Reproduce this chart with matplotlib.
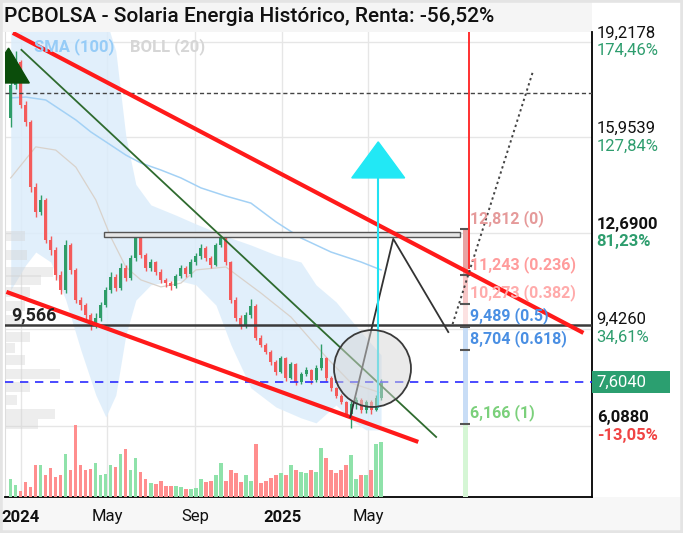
import matplotlib
matplotlib.use("Agg")
import matplotlib.pyplot as plt
import matplotlib.dates as mdates
import matplotlib.transforms as mtrans
from matplotlib.patches import Rectangle
import pandas as pd

plt.rcParams['font.family'] = ['Roboto', 'DejaVu Sans']

# --- velas semanais (Solaria, dez/2023 -> mai/2025) ---
semanas = pd.date_range('2023-12-18', periods=75, freq='7D')
aberturas = [16.62, 17.74, 18.53, 17.06, 16.48, 14.26, 13.41, 13.82, 12.45, 12.11,
             11.26, 10.74, 12.28, 11.43, 10.40, 10.23, 9.89, 9.55, 9.79, 10.23,
             10.74, 11.19, 10.81, 11.50, 11.15, 11.84, 12.52, 11.94, 11.50, 11.70,
             11.36, 11.09, 10.98, 10.88, 11.22, 11.50, 11.29, 11.70, 11.91, 12.18,
             11.84, 11.60, 12.28, 12.52, 11.70, 10.40, 9.79, 9.52, 9.89, 10.20,
             9.11, 8.87, 8.63, 8.29, 7.95, 8.42, 7.74, 8.22, 7.60, 7.88,
             8.01, 7.67, 8.08, 8.42, 7.74, 7.40, 7.13, 6.92, 6.51, 6.85,
             6.99, 6.65, 6.92, 6.65, 7.06]
fechos = [17.74, 18.53, 17.06, 16.48, 14.26, 13.41, 13.82, 12.45, 12.11, 11.26,
          10.74, 12.28, 11.43, 10.40, 10.23, 9.89, 9.55, 9.79, 10.23, 10.74,
          11.19, 10.81, 11.50, 11.15, 11.84, 12.52, 11.94, 11.50, 11.70, 11.36,
          11.09, 10.98, 10.88, 11.22, 11.50, 11.29, 11.70, 11.91, 12.18, 11.84,
          11.60, 12.28, 12.52, 11.70, 10.40, 9.79, 9.52, 9.89, 10.20, 9.11,
          8.87, 8.63, 8.29, 7.95, 8.42, 7.74, 8.22, 7.60, 7.88, 8.01,
          7.67, 8.08, 8.42, 7.74, 7.40, 7.13, 6.92, 6.51, 6.85, 6.99,
          6.65, 6.92, 6.65, 7.06, 7.604]
maximas = [17.95, 18.90, 18.60, 17.20, 16.55, 14.40, 14.00, 13.90, 12.60, 12.20,
           11.40, 12.45, 12.35, 11.50, 10.50, 10.30, 9.95, 9.95, 10.35, 10.85,
           11.35, 11.30, 11.65, 11.60, 11.95, 12.69, 12.60, 12.00, 11.80, 11.75,
           11.45, 11.15, 11.05, 11.30, 11.60, 11.55, 11.80, 12.00, 12.30, 12.25,
           11.90, 12.35, 12.69, 12.55, 11.75, 10.50, 9.90, 10.00, 10.45, 10.25,
           9.20, 8.95, 8.70, 8.35, 8.50, 8.45, 8.30, 8.25, 7.95, 8.10,
           8.05, 8.20, 8.90, 8.45, 7.80, 7.45, 7.20, 6.95, 6.95, 7.10,
           7.05, 7.00, 6.98, 7.15, 7.70]
minimas = [16.30, 17.60, 16.95, 16.35, 14.10, 13.25, 13.30, 12.35, 11.95, 11.10,
           10.60, 10.65, 11.30, 10.30, 10.05, 9.75, 9.38, 9.45, 9.70, 10.15,
           10.65, 10.70, 10.75, 11.05, 11.10, 11.75, 11.85, 11.40, 11.40, 11.25,
           11.00, 10.85, 10.75, 10.80, 11.15, 11.20, 11.20, 11.60, 11.80, 11.75,
           11.50, 11.55, 12.20, 11.60, 10.30, 9.70, 9.42, 9.45, 9.80, 9.05,
           8.80, 8.55, 8.20, 7.85, 7.90, 7.65, 7.70, 7.50, 7.55, 7.80,
           7.55, 7.60, 8.00, 7.65, 7.30, 7.05, 6.85, 6.40, 6.05, 6.70,
           6.55, 6.55, 6.50, 6.60, 7.00]
volumes = [18, 12, 6, 15, 10, 32, 32, 22, 29, 20, 22, 43, 27, 71, 32, 27, 28, 34,
           22, 23, 32, 30, 43, 48, 27, 39, 25, 18, 14, 13, 16, 11, 11, 11, 10, 8,
           8, 9, 18, 15, 16, 22, 34, 16, 27, 24, 15, 22, 16, 53, 14, 16, 19, 22,
           24, 22, 32, 27, 25, 24, 27, 25, 49, 39, 27, 24, 27, 32, 42, 18, 22, 22,
           27, 53, 55]

boll_idx = [0, 3, 5, 8, 11, 14, 17, 19, 21, 23, 25, 28, 33, 37, 41, 44, 48, 53,
            58, 61, 65, 68, 71, 74]
boll_sup = [20.5, 20.5, 20.5, 20.5, 20.5, 20.5, 20.5, 20.0, 18.9, 16.0, 14.35,
            13.65, 13.30, 13.00, 12.72, 12.52, 12.28, 11.94, 11.70, 10.92, 10.34,
            9.72, 9.11, 8.53]
boll_inf = [10.75, 11.60, 12.04, 11.70, 10.40, 8.70, 7.16, 6.41, 7.16, 9.21, 10.40,
            10.92, 11.09, 10.92, 10.23, 8.87, 7.40, 6.75, 6.38, 6.21, 6.82, 6.31,
            5.97, 5.97]
boll_mid_idx = [0, 5, 9, 13, 17, 20, 23, 26, 30, 34, 37, 43, 50, 56, 63, 68, 74]
boll_mid = [14.57, 15.63, 15.52, 14.94, 13.82, 12.55, 11.53, 11.09, 10.85, 10.98,
            11.43, 11.53, 10.64, 9.82, 8.46, 7.57, 7.23]
sma_idx = [0, 3, 7, 10, 13, 16, 20, 23, 26, 30, 34, 38, 43, 48, 53, 58, 64, 70, 74]
sma_100 = [17.30, 17.33, 17.23, 16.89, 16.55, 16.14, 15.69, 15.35, 15.08, 14.84,
           14.57, 14.23, 13.95, 13.71, 13.07, 12.52, 12.04, 11.70, 11.43]

# perfil de volume (preço -> volume relativo)
perfil_precos = [12.59, 11.94, 11.36, 11.09, 10.68, 10.20, 9.72, 9.14, 8.77, 8.36,
                 7.88, 7.43, 6.99, 6.51, 6.17]
perfil_vol = [20, 22, 48, 36, 25, 20, 15, 25, 10, 20, 55, 25, 12, 50, 33]

# --- desenhos do analista ---
canal_sup_datas = ['2023-12-21', '2026-02-26']
canal_sup_precos = [19.52, 9.28]
canal_inf_datas = ['2023-12-12', '2025-07-10']
canal_inf_precos = [10.68, 5.56]
lt_verde_datas = ['2024-01-02', '2025-08-04']
lt_verde_precos = [18.94, 5.73]
zigzag_datas = ['2025-04-06', '2025-06-05', '2025-08-21']
zigzag_precos = [6.41, 12.49, 9.31]
projecao_datas = ['2025-08-27', '2025-12-18']
projecao_precos = [9.58, 18.25]
caixa_datas = ['2024-04-26', '2025-09-07']
caixa_precos = [12.55, 12.72]
linha_tracejada = 17.47
suporte = 9.566
preco_atual = 7.604
circulo_data, circulo_preco = '2025-05-06', 8.07
seta_data = '2025-05-15'
seta_precos = [6.75, 14.57, 15.80]   # base da haste, base da cabeça, ponta
seta_meia_largura = 37               # dias
tri_datas = ['2023-11-13', '2023-12-15', '2024-01-13']
tri_precos = [17.81, 19.00, 17.81]
vertical_data = '2025-09-19'
vertical_precos = [11.50, 19.70]

fib_precos = [12.812, 11.243, 10.273, 9.489, 8.704, 6.166]
fib_rotulos = ['12,812 (0)', '11,243 (0.236)', '10,273 (0.382)', '9,489 (0.5)',
               '8,704 (0.618)', '6,166 (1)']
fib_cores_txt = ['#e59a9a', '#ff9c9c', '#ffabab', '#4a8fe3', '#4a8fe3', '#7bd07b']
fib_cores_faixa = ['#e8a3a3', '#f7c6c6', '#fce2e2', '#c8ddf6', '#c8ddf6']
fib_barra_datas = ['2025-09-10', '2025-09-18']
fib_tick_datas = ['2025-09-07', '2025-09-21']
fib_texto_data = '2025-09-20'

eixo_precos = [19.2178, 15.9539, 12.69, 9.426, 6.088]
eixo_rotulos = ['19,2178', '15,9539', '12,6900', '9,4260', '6,0880']
eixo_pct = ['174,46%', '127,84%', '81,23%', '34,61%', '-13,05%']
eixo_negrito = [False, False, True, False, True]

meses_datas = ['2024-01-01', '2024-05-01', '2024-09-01', '2025-01-01', '2025-05-01']
meses_rotulos = ['2024', 'May', 'Sep', '2025', 'May']

titulo = 'PCBOLSA - Solaria Energia Histórico, Renta: -56,52%'

VERDE, VERMELHO = '#2e9d68', '#f45b5b'
d = lambda s: mdates.date2num(pd.Timestamp(s))
dn = lambda lst: [d(s) for s in lst]

W, H = 683, 533
fig = plt.figure(figsize=(W / 100, H / 100), dpi=100, facecolor='white')
fig.patches.append(Rectangle((0, 1 - 32 / H), 592 / W, 32 / H, transform=fig.transFigure,
                             facecolor='#f5f5f5', edgecolor='none', zorder=-5))
fig.patches.append(Rectangle((0, 0), 1, 36 / H, transform=fig.transFigure,
                             facecolor='#f7f7f7', edgecolor='none', zorder=-5))
fig.patches.append(Rectangle((0, 0), 1, 1, transform=fig.transFigure, fill=False,
                             edgecolor='#e4e4e4', linewidth=4, zorder=-4))

ax = fig.add_axes([5 / W, 1 - 497 / H, 587 / W, 465 / H])
ax.set_xlim(d('2023-12-10'), d('2026-03-10'))
ax.set_ylim(3.68, 19.55)

# grade
ax.set_yticks(eixo_precos)
ax.set_yticklabels([])
ax.set_xticks(dn(meses_datas))
ax.set_xticklabels(meses_rotulos, fontsize=12)
for lbl, r in zip(ax.get_xticklabels(), meses_rotulos):
    if r.isdigit():
        lbl.set_fontweight('bold')
ax.tick_params(length=0, pad=9, colors='#111111')
ax.tick_params(axis='y', length=0)
ax.grid(True, color='#e6e6e6', linewidth=1)
ax.set_axisbelow(True)
ax.spines['top'].set_visible(False)
ax.spines['left'].set_color('#dddddd')
ax.spines['right'].set_color('black')
ax.spines['bottom'].set_color('black')
ax.spines['right'].set_linewidth(1.3)
ax.spines['bottom'].set_linewidth(1.3)

x = mdates.date2num(semanas)

# bollinger + sma
ax.fill_between(x[boll_idx], boll_inf, boll_sup, color='#dcedfb', alpha=0.85,
                linewidth=0, zorder=1)
ax.plot(x[boll_mid_idx], boll_mid, color='#d9d2cb', linewidth=0.9, zorder=2)
ax.plot(x[sma_idx], sma_100, color='#a3d1f5', linewidth=1.1, zorder=2)

# perfil de volume
x0 = ax.get_xlim()[0]
ax.barh(perfil_precos, [v * 1.4 for v in perfil_vol], left=x0, height=0.36,
        color='#d2d2d2', alpha=0.4, linewidth=0, zorder=2)

# velas
cores = [VERDE if c >= o else VERMELHO for o, c in zip(aberturas, fechos)]
ax.vlines(x, minimas, maximas, colors=cores, linewidth=1, zorder=4)
corpos = [abs(c - o) for o, c in zip(aberturas, fechos)]
bases = [min(o, c) for o, c in zip(aberturas, fechos)]
ax.bar(x, corpos, bottom=bases, width=4.2, color=cores, linewidth=0, zorder=4)

# volume
vax = ax.twinx()
vax.set_ylim(0, max(volumes) * 6.5)
vax.axis('off')
cores_vol = ['#8fe2aa' if c >= o else '#ff8e8e' for o, c in zip(aberturas, fechos)]
vax.bar(x, volumes, width=4.6, color=cores_vol, linewidth=0)

# fibonacci
fb0, fb1 = dn(fib_barra_datas)
for i, cor in enumerate(fib_cores_faixa):
    ax.fill_between([fb0, fb1], fib_precos[i + 1], fib_precos[i], color=cor,
                    linewidth=0, zorder=3)
ax.fill_between([fb0, fb1], ax.get_ylim()[0], fib_precos[-1], color='#d5f6d5',
                linewidth=0, zorder=3)
ax.hlines(fib_precos, *dn(fib_tick_datas), colors='#555555', linewidth=1.5, zorder=6)
for p, txt, cor in zip(fib_precos, fib_rotulos, fib_cores_txt):
    ax.annotate(txt, (d(fib_texto_data), p), xytext=(0, 2), textcoords='offset points',
                ha='left', va='bottom', fontsize=11.5, fontweight='bold', color=cor,
                zorder=7)
ax.plot(dn([vertical_data] * 2), vertical_precos, color='#ff3030', linewidth=1.4, zorder=6)

# linhas horizontais
tr = mtrans.blended_transform_factory(ax.transAxes, ax.transData)
ax.axhline(linha_tracejada, color='#444444', linewidth=1, dashes=(3, 2), zorder=5)
ax.axhline(suporte, color='#3a3a3a', linewidth=1.8, zorder=5)
ax.axhline(preco_atual, color='#2b2bff', linewidth=1.2, dashes=(5, 4), zorder=5)
ax.text(6 / 587, suporte, '9,566', transform=tr, fontsize=13, fontweight='bold',
        color='#222222', va='bottom', zorder=7)
ax.add_patch(Rectangle((d(caixa_datas[0]), caixa_precos[0]),
                       d(caixa_datas[1]) - d(caixa_datas[0]),
                       caixa_precos[1] - caixa_precos[0],
                       facecolor='#e6e6e6', edgecolor='#555555', linewidth=1, zorder=5))

# tendências
ax.plot(dn(canal_sup_datas), canal_sup_precos, color='#ff1a1a', linewidth=3, zorder=6,
        solid_capstyle='butt')
ax.plot(dn(canal_inf_datas), canal_inf_precos, color='#ff1a1a', linewidth=3, zorder=6,
        solid_capstyle='butt')
ax.plot(dn(lt_verde_datas), lt_verde_precos, color='#2f6b2f', linewidth=1.3, zorder=6)
ax.plot(dn(zigzag_datas), zigzag_precos, color='#333333', linewidth=1.3, zorder=6)
ax.plot(dn(projecao_datas), projecao_precos, color='#444444', linewidth=1.4,
        linestyle=(0, (1.2, 1.6)), zorder=6)
ax.fill(dn(tri_datas), tri_precos, color='#0b4d0b', zorder=6)

# seta ciano
sx = d(seta_data)
ax.plot([sx, sx], seta_precos[:2], color='#22e2f2', linewidth=1.5, zorder=6)
ax.fill([sx - seta_meia_largura, sx + seta_meia_largura, sx],
        [seta_precos[1], seta_precos[1], seta_precos[2]], color='#22e8f5', zorder=6)

# círculo
ax.scatter([d(circulo_data)], [circulo_preco], s=3070, facecolors=(0.84, 0.84, 0.84, 0.5),
           edgecolors='#3a3a3a', linewidths=1.3, zorder=7)

# legenda dos indicadores
ax.text(29 / 587, 1 - 15 / 465, 'SMA (100)', transform=ax.transAxes, fontsize=12,
        fontweight='bold', color='#96ccf7', va='center', zorder=8)
ax.text(125 / 587, 1 - 15 / 465, 'BOLL (20)', transform=ax.transAxes, fontsize=12,
        fontweight='bold', color='#d6d6d6', va='center', zorder=8)

# eixo de preços à direita
for p, r, pct, neg in zip(eixo_precos, eixo_rotulos, eixo_pct, eixo_negrito):
    peso = 'bold' if neg else 'normal'
    cor_pct = '#f04444' if pct.startswith('-') else '#2e9d6e'
    ax.annotate(r, (1.008, p), xycoords=tr, xytext=(0, 1), textcoords='offset points',
                fontsize=12, fontweight=peso, color='#111111', va='bottom',
                annotation_clip=False)
    ax.annotate(pct, (1.008, p), xycoords=tr, xytext=(0, -1), textcoords='offset points',
                fontsize=12, fontweight=peso, color=cor_pct, va='top',
                annotation_clip=False)
# etiqueta do preço atual
ax.add_patch(Rectangle((1.0, preco_atual - 0.39), 78 / 587, 0.78, transform=tr,
                       facecolor='#2b9f70', edgecolor='none', clip_on=False, zorder=8))
ax.text(1.008, preco_atual, '7,6040', transform=tr, fontsize=12, color='white',
        va='center', ha='left', clip_on=False, zorder=9)

fig.text(4 / W, 1 - 17 / H, titulo, fontsize=15, fontweight='medium', va='center',
         color='#111111')

fig.savefig('out.png', dpi=100, facecolor=fig.get_facecolor())
